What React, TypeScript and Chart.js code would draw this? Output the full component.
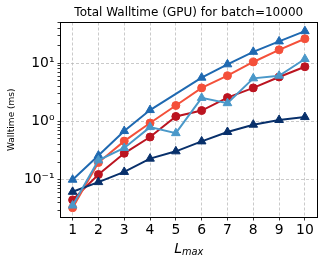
import React, { useEffect, useRef } from 'react';
import { Chart, registerables } from 'chart.js';

Chart.register(...registerables);

// ---- data ----
const lmax = [1, 2, 3, 4, 5, 6, 7, 8, 9, 10];
const xTicks = [1, 2, 3, 4, 5, 6, 7, 8, 9, 10];
const yTickValues = [0.1, 1, 10];
const yTickLabels = ['10⁻¹', '10⁰', '10¹'];

const lightBlueSeries = [0.036, 0.215, 0.35, 0.8, 0.63, 2.54, 2.06, 5.5, 6.1, 11.8];
const mediumBlueSeries = [0.1, 0.26, 0.685, 1.57, null, 5.65, 9.57, 15.7, 23.7, 35.5];
const navySeries = [0.062, 0.091, 0.136, 0.23, 0.307, 0.455, 0.66, 0.88, 1.06, 1.19];
const orangeRedSeries = [0.033, 0.197, 0.46, 0.94, 1.88, 3.77, 6.1, 10.5, 17.0, 26.3];
const darkRedSeries = [0.045, 0.123, 0.284, 0.54, 1.22, 1.54, 2.57, 3.77, 5.8, 8.7];

const titleText = 'Total Walltime (GPU) for batch=10000';
const yLabelText = 'Walltime (ms)';
const xLabelMain = 'L';
const xLabelSub = 'max';

const FONT = 'DejaVu Sans';
const GRID = 'rgba(176,176,176,0.85)';

const mk = (vals: (number | null)[]) => vals.map((v, i) => ({ x: lmax[i], y: v }));

const ds = (label: string, vals: (number | null)[], color: string, style: string) => ({
  label,
  data: mk(vals),
  borderColor: color,
  backgroundColor: color,
  pointBackgroundColor: color,
  pointBorderColor: color,
  borderWidth: 2,
  pointStyle: style,
  pointRadius: style === 'triangle' ? 5 : 4,
  pointBorderWidth: 1,
  spanGaps: true,
  tension: 0,
});

const framePlugin = {
  id: 'frameAndLabels',
  afterDraw(chart: any) {
    const { ctx, chartArea } = chart;
    const { left, right, top, bottom } = chartArea;
    ctx.save();
    ctx.strokeStyle = '#000';
    ctx.lineWidth = 1;
    ctx.strokeRect(Math.round(left) - 0.5, Math.round(top) - 0.5, Math.round(right) - Math.round(left) + 1, Math.round(bottom) - Math.round(top) + 1);

    const cx = (left + right) / 2;

    // title centred over the plot area
    ctx.fillStyle = '#000';
    ctx.textAlign = 'center';
    ctx.textBaseline = 'alphabetic';
    ctx.font = `12px "${FONT}"`;
    ctx.fillText(titleText, cx, 16.3);

    // x-axis label: L_max
    ctx.textAlign = 'left';
    const mainFont = `oblique 14px "${FONT}"`;
    const subFont = `oblique 9.8px "${FONT}"`;
    ctx.font = mainFont;
    const wMain = ctx.measureText(xLabelMain).width;
    ctx.font = subFont;
    const wSub = ctx.measureText(xLabelSub).width;
    const x0 = cx - (wMain + wSub) / 2;
    const baseY = 252.5;
    ctx.font = mainFont;
    ctx.fillText(xLabelMain, x0, baseY);
    ctx.font = subFont;
    ctx.fillText(xLabelSub, x0 + wMain, baseY + 2.8);

    // y-axis label
    ctx.translate(12, (top + bottom) / 2);
    ctx.rotate(-Math.PI / 2);
    ctx.textAlign = 'center';
    ctx.textBaseline = 'middle';
    ctx.font = `9px "${FONT}"`;
    ctx.fillText(yLabelText, 0, 0);
    ctx.restore();
  },
};

const isDecade = (v: number) => Math.abs(Math.log10(v) - Math.round(Math.log10(v))) < 1e-6;

export default function App() {
  const ref = useRef<HTMLCanvasElement | null>(null);
  useEffect(() => {
    if (!ref.current) return;
    const yMin = 0.0229;
    const yMax = 50;
    const chart = new Chart(ref.current, {
      type: 'line',
      data: {
        datasets: [
          ds('lightBlue', lightBlueSeries, '#4a98c9', 'triangle'),
          ds('mediumBlue', mediumBlueSeries, '#1f69b1', 'triangle'),
          ds('navy', navySeries, '#08306b', 'triangle'),
          ds('orangeRed', orangeRedSeries, '#f4503a', 'circle'),
          ds('darkRed', darkRedSeries, '#bb1420', 'circle'),
        ] as any,
      },
      options: {
        animation: false,
        responsive: false,
        maintainAspectRatio: false,
        layout: { padding: { left: 0, right: 7.5, top: 22.5, bottom: 0 } },
        plugins: {
          legend: { display: false },
          tooltip: { enabled: false },
          title: { display: false },
        },
        scales: {
          x: {
            type: 'linear',
            min: 0.55,
            max: 10.45,
            afterFit: (s: any) => { s.height = 47; },
            afterBuildTicks: (s: any) => { s.ticks = xTicks.map((v) => ({ value: v })); },
            ticks: {
              autoSkip: false,
              maxRotation: 0,
              color: '#000',
              padding: 2,
              font: { family: FONT, size: 13.9 },
              callback: (v: any) => String(v),
            },
            grid: {
              color: GRID,
              lineWidth: 0.8,
              tickColor: '#000',
              tickLength: 3.5,
              tickWidth: 0.8,
              tickBorderDash: [],
            },
            border: { display: false, dash: [3, 2] },
          },
          y: {
            type: 'logarithmic',
            min: yMin,
            max: yMax,
            afterFit: (s: any) => { s.width = 61; },
            afterBuildTicks: (s: any) => {
              const t: any[] = [];
              for (let e = -2; e <= 1; e++) {
                for (let m = 1; m <= 9; m++) {
                  const v = parseFloat((m * Math.pow(10, e)).toPrecision(6));
                  if (v >= yMin && v <= yMax) t.push({ value: v, major: m === 1 });
                }
              }
              s.ticks = t;
            },
            ticks: {
              autoSkip: false,
              color: '#000',
              padding: 3,
              font: { family: FONT, size: 13.9 },
              callback: (v: any) => {
                const val = Number(v);
                const idx = yTickValues.findIndex((t) => Math.abs(t - val) / t < 1e-6);
                return idx >= 0 ? yTickLabels[idx] : '';
              },
            },
            grid: {
              color: (c: any) => (c.tick && isDecade(c.tick.value) ? GRID : 'rgba(0,0,0,0)'),
              lineWidth: 0.8,
              tickColor: '#000',
              tickLength: 3.5,
              tickWidth: 0.8,
              tickBorderDash: [],
            },
            border: { display: false, dash: [3, 2] },
          },
        },
      } as any,
      plugins: [framePlugin],
    });
    return () => chart.destroy();
  }, []);
  return (
    <div style={{ position: 'absolute', left: 0, top: 0, width: 324, height: 264 }}>
      <canvas ref={ref} width={324} height={264} style={{ width: 324, height: 264 }} />
    </div>
  );
}
